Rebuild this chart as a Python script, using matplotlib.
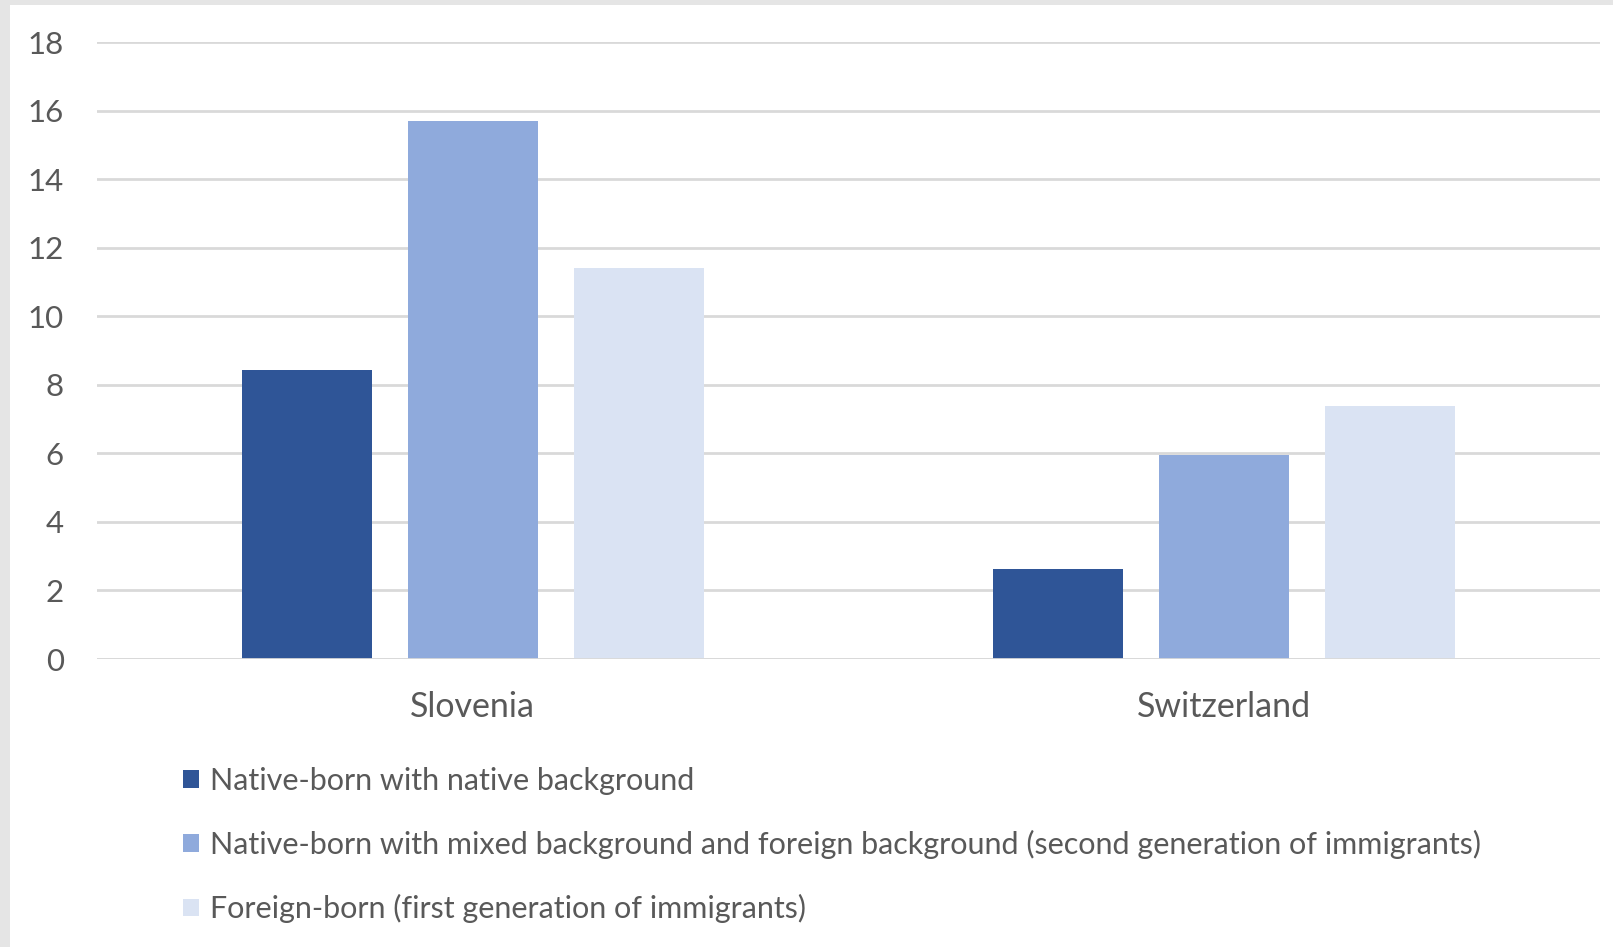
import matplotlib
matplotlib.use("Agg")
import matplotlib.pyplot as plt
from matplotlib.patches import Rectangle
import numpy as np

plt.rcParams['font.family'] = ['Lato', 'DejaVu Sans']

countries = ["Slovenia", "Switzerland"]
series_labels = [
    "Native-born with native background",
    "Native-born with mixed background and foreign background (second generation of immigrants)",
    "Foreign-born (first generation of immigrants)",
]
native_native = [8.45, 2.63]
native_mixed = [15.71, 5.96]
foreign_born = [11.40, 7.40]
y_ticks = [0, 2, 4, 6, 8, 10, 12, 14, 16, 18]

colors = ["#2F5597", "#8FAADC", "#DAE3F3"]
text_color = "#595959"
grid_color = "#D9D9D9"

W, H = 1613, 947
fig = plt.figure(figsize=(W / 100, H / 100), dpi=100)
fig.patch.set_facecolor("white")

# light grey frame along the left and top edges
fig.patches.append(Rectangle((0, 0), 10 / W, 1, transform=fig.transFigure,
                             facecolor="#E5E5E5", edgecolor="none", zorder=0))
fig.patches.append(Rectangle((0, 1 - 5 / H), 1, 5 / H, transform=fig.transFigure,
                             facecolor="#E5E5E5", edgecolor="none", zorder=0))

ax_left, ax_right = 97 / W, 1600 / W
ax_bottom, ax_top = 1 - 659 / H, 1 - 42.4 / H
ax = fig.add_axes([ax_left, ax_bottom, ax_right - ax_left, ax_top - ax_bottom])

x = np.arange(len(countries))
width = 0.173
step = 0.221
series = [native_native, native_mixed, foreign_born]
for i, (vals, col, lab) in enumerate(zip(series, colors, series_labels)):
    ax.bar(x + (i - 1) * step, vals, width=width, color=col, label=lab, zorder=3)

ax.set_xlim(-0.5, 1.5)
ax.set_ylim(0, 18)
ax.set_yticks(y_ticks)
ax.set_yticklabels([str(t) for t in y_ticks])
ax.set_xticks(x)
ax.set_xticklabels(countries)
ax.tick_params(axis="y", length=0, pad=24, labelsize=22.5, labelcolor=text_color)
ax.tick_params(axis="x", length=0, pad=23, labelsize=24.5, labelcolor=text_color)
ax.grid(axis="y", color=grid_color, linewidth=2, zorder=0)
ax.set_axisbelow(True)
for s in ax.spines.values():
    s.set_visible(False)
ax.axhline(0, color=grid_color, linewidth=2, zorder=4)

handles, labels = ax.get_legend_handles_labels()
leg = fig.legend(handles, labels, loc="upper left",
                 bbox_to_anchor=(168 / W, 1 - 751.5 / H),
                 frameon=False, fontsize=22, labelcolor=text_color,
                 handlelength=0.52, handleheight=0.52, handletextpad=0.35,
                 labelspacing=1.15, borderpad=0)

fig.savefig("out.png", dpi=100, facecolor="white")
